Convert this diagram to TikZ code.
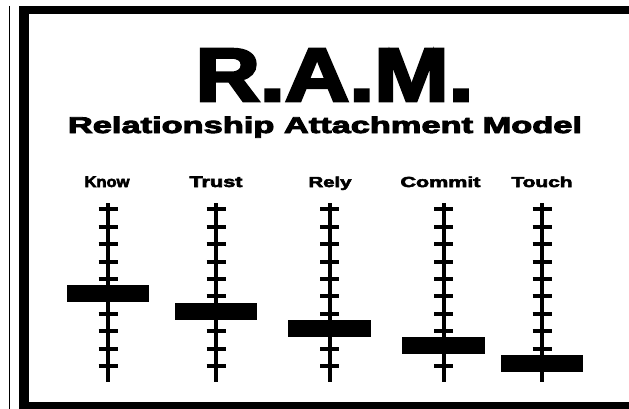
\documentclass[tikz,border=0pt]{standalone}
\usepackage{fontspec}
\usepackage{graphicx}
\setmainfont{Liberation Sans}
\newfontfamily\heavy{Liberation Sans}[UprightFont=* Bold, FakeBold=3.5]
\begin{document}
\begin{tikzpicture}[x=1pt,y=-1pt,
  bar/.style={fill=black,inner sep=0pt,minimum width=82.5pt,minimum height=17pt},
  lab/.style={inner sep=0pt,anchor=base},
  rail/.style={line width=4pt},
  notch/.style={line width=4pt}]
\useasboundingbox (0,0) rectangle (629,409);
\fill[white] (0,0) rectangle (629,409);
% outer thin line and thick frame
\draw[line width=1.2pt] (9.5,6) -- (9.5,409);
\fill (19,6) rectangle (629,14);
\fill (19,6) rectangle (29,409);
\fill (19,401.5) rectangle (629,409);
% titles
\node[lab] (title) at (334.5,101) {\resizebox{278pt}{52pt}{\heavy R.A.M.}};
\node[lab] (subtitle) at (325,133) {\resizebox{514pt}{16.5pt}{\heavy Relationship Attachment Model}};
% sliders
\foreach \name/\x/\lx/\k/\lab/\w in {know/108/107/5/Know/45, trust/216/216/6/Trust/53, rely/329.5/330/7/Rely/43, commit/443.5/440.5/8/Commit/80, touch/542/542/9/Touch/61}{
  \coordinate (\name-top) at (\x,203);
  \coordinate (\name-bot) at (\x,382);
  \draw[rail] (\name-top) -- (\name-bot);
  \foreach \i in {0,...,9}{
    \coordinate (\name-n\i) at (\x,{209.3+17.4*\i});
    \draw[notch] ([xshift=-9.5pt]\name-n\i) -- ([xshift=9.5pt]\name-n\i);
  }
  \node[bar] (\name-bar) at (\x,{209.3+17.4*\k-2.6}) {};
  \node[lab] (\name-label) at (\lx,187) {\resizebox{\w pt}{10.5pt}{\heavy \lab}};
}
\end{tikzpicture}
\end{document}
